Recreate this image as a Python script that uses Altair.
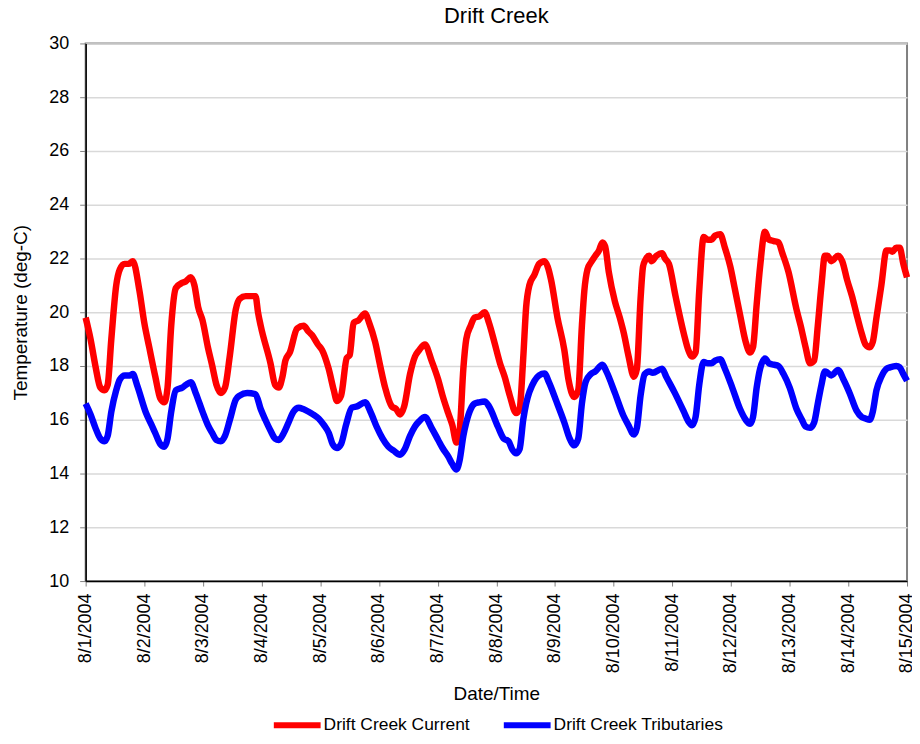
import altair as alt
import pandas as pd

# Hours since 8/1/2004 00:00 and temperature (deg-C)
current_hours = [0, 2, 4, 6, 7.7, 9, 10.5, 12.5, 14, 15.9, 17.5, 19.3, 22, 24, 26, 28.5, 30.5, 32.2,
    33.5, 35, 36.9, 39.6, 41, 43, 44.5, 46, 47.8, 50, 51.8, 53.5, 55.3, 57, 59, 61.4, 63, 65.5,
    69.5, 70.5, 71.6, 75.6, 77.5, 79, 80.5, 81.7, 83.5, 86.5, 89.2, 91, 92.6, 95, 96.7, 99.4,
    101.5, 102.8, 104.5, 106.8, 108, 109.6, 111.6, 114.3, 116, 118.4, 120.5, 122.5, 125.2, 127,
    128.6, 130.3, 132.7, 134.7, 136.5, 138.8, 141.5, 144.2, 146, 148.3, 150, 151.7, 153, 154.5,
    155.7, 157.5, 159.1, 161, 163.2, 165, 167.3, 169.5, 171.4, 173.5, 176.1, 177.5, 179, 180.2,
    181.5, 183.6, 185.5, 187.7, 189, 190.4, 193, 195.8, 197.5, 199.9, 201.5, 203, 204, 205.3,
    206.7, 208.5, 210, 211.4, 212.5, 214, 216.5, 218.5, 220.2, 222, 224.3, 225.5, 227, 228, 229,
    230.5, 231.5, 233.5, 235.8, 237, 238.6, 241.3, 244.7, 246.5, 248.1, 249.5, 251, 252.8, 254.5,
    256, 257.5, 259.6, 261.5, 263.7, 265.5, 267.7, 270, 271.8, 273, 274.5, 275.9, 277.9, 279.5,
    281.5, 283.4, 285, 287.5, 290.8, 292.5, 294.5, 296.3, 298, 299.5, 301, 302.4, 303.5, 305,
    307.8, 309.5, 311.5, 313.5, 315.3, 317.5, 319, 320.7, 322, 323.5, 325.5, 327.6, 329, 330,
    331.6, 333, 334.5, 336]
current_temp = [19.8, 19.0, 18.0, 17.2, 17.1, 17.3, 19.0, 21.0, 21.6, 21.8, 21.8, 21.9, 20.8, 19.6,
    18.7, 17.6, 16.8, 16.65, 17.2, 19.5, 20.9, 21.1, 21.15, 21.3, 21.0, 20.2, 19.7, 18.7, 18.0,
    17.3, 17.0, 17.2, 18.4, 20.1, 20.5, 20.6, 20.6, 20.0, 19.5, 18.1, 17.3, 17.2, 17.6, 18.2,
    18.5, 19.4, 19.5, 19.3, 19.15, 18.8, 18.6, 17.9, 17.1, 16.7, 16.9, 18.3, 18.4, 19.6, 19.7,
    19.95, 19.6, 18.9, 18.0, 17.2, 16.5, 16.4, 16.2, 16.5, 17.7, 18.35, 18.6, 18.8, 18.2, 17.5,
    16.9, 16.25, 15.8, 15.15, 15.6, 17.9, 19.0, 19.5, 19.8, 19.85, 20.0, 19.6, 18.85, 18.1, 17.6,
    16.9, 16.25, 16.4, 18.3, 20.2, 21.0, 21.4, 21.8, 21.9, 21.7, 21.2, 19.8, 18.6, 17.5, 16.85,
    17.1, 19.5, 20.8, 21.6, 21.85, 22.1, 22.3, 22.6, 22.45, 21.5, 20.4, 19.8, 19.2, 18.4, 17.6,
    17.9, 20.5, 21.7, 21.95, 22.1, 21.9, 22.1, 22.2, 22.0, 21.8, 20.6, 19.2, 18.6, 18.35, 18.5,
    20.8, 22.8, 22.7, 22.7, 22.85, 22.9, 22.4, 21.7, 20.9, 19.9, 18.9, 18.5, 18.7, 20.3, 21.7,
    23.0, 22.7, 22.65, 22.6, 22.2, 21.5, 20.1, 19.5, 18.7, 18.1, 18.2, 19.5, 21.0, 22.1, 22.1,
    21.9, 22.1, 21.9, 21.2, 20.6, 19.95, 19.2, 18.8, 18.7, 18.9, 19.8, 21.0, 22.3, 22.3, 22.25,
    22.4, 22.4, 21.8, 21.3]

trib_hours = [0, 2, 4, 6, 7.7, 9, 10.5, 12.5, 14, 16, 18, 19.3, 21, 24.7, 27, 28.5, 30.5, 32.2,
    33.5, 35, 36.9, 39.6, 41, 43, 45, 47.8, 50, 51.8, 53.5, 55.3, 57, 59, 61.4, 63, 66.1, 69.5,
    71.6, 73.5, 75.6, 77.5, 79, 81, 83, 85, 87.2, 89, 91.2, 93, 95.3, 97.5, 99.5, 101, 102.8,
    104.5, 106.5, 108.9, 111, 114.3, 116.5, 119, 121.5, 123.8, 126, 128.6, 130.5, 132.7, 134.7,
    136.5, 138.8, 141.5, 144.2, 146, 148.3, 150, 151.7, 153, 154.5, 155.7, 157.5, 159.1, 161,
    163.2, 165, 168.6, 171, 173, 174.5, 176.1, 177.5, 179, 180.2, 183.6, 185.5, 187.7, 189.5,
    192.5, 195.8, 198, 199.9, 201.5, 203, 204.5, 206.7, 208.5, 211.4, 213, 216.5, 220, 222,
    224.3, 225.5, 227, 228.7, 230.5, 232, 235.8, 237.5, 241, 244.7, 246.5, 248.1, 249.5, 251,
    252.8, 254.5, 256, 257.5, 259.6, 261.5, 264.5, 267.7, 270, 271.8, 273, 274.5, 275.9, 277.9,
    279.5, 281.5, 283.4, 285.5, 288, 290.8, 293, 294.5, 296.3, 298, 299.5, 301, 302.4, 303.5,
    305, 307.8, 310, 312.5, 315.3, 317.5, 319, 320.7, 322, 323.5, 325.5, 327.6, 329, 331.6, 333,
    334.5, 336]
trib_temp = [16.6, 16.2, 15.7, 15.3, 15.2, 15.4, 16.3, 17.1, 17.5, 17.65, 17.65, 17.7, 17.3, 16.25,
    15.8, 15.5, 15.1, 15.0, 15.3, 16.3, 17.1, 17.2, 17.3, 17.4, 17.0, 16.3, 15.8, 15.5, 15.25,
    15.2, 15.4, 16.0, 16.75, 16.9, 17.0, 16.95, 16.4, 16.0, 15.6, 15.3, 15.25, 15.5, 15.9, 16.3,
    16.45, 16.4, 16.3, 16.2, 16.05, 15.8, 15.5, 15.1, 14.95, 15.1, 15.8, 16.45, 16.5, 16.65,
    16.3, 15.75, 15.3, 15.0, 14.85, 14.7, 14.9, 15.4, 15.75, 15.95, 16.1, 15.7, 15.25, 14.95,
    14.64, 14.35, 14.15, 14.5, 15.4, 15.9, 16.4, 16.6, 16.65, 16.68, 16.5, 15.75, 15.3, 15.2,
    14.9, 14.75, 14.9, 16.0, 16.6, 17.45, 17.65, 17.72, 17.4, 16.7, 15.9, 15.3, 15.05, 15.3,
    16.6, 17.4, 17.7, 17.8, 18.05, 17.8, 17.0, 16.15, 15.8, 15.45, 15.7, 16.9, 17.7, 17.8, 17.75,
    17.9, 17.6, 17.0, 16.3, 15.95, 15.8, 16.1, 17.3, 18.15, 18.1, 18.1, 18.2, 18.25, 17.9, 17.2,
    16.4, 16.0, 15.85, 16.1, 17.2, 17.9, 18.28, 18.1, 18.05, 18.0, 17.7, 17.2, 16.4, 16.0, 15.75,
    15.7, 15.9, 16.6, 17.3, 17.8, 17.75, 17.65, 17.85, 17.5, 17.0, 16.35, 16.1, 16.05, 16.0,
    16.3, 17.1, 17.6, 17.9, 17.95, 18.0, 17.95, 17.7, 17.45]

series_names = ["Drift Creek Current", "Drift Creek Tributaries"]
series_colors = ["#FF0000", "#0000FF"]
day_labels = ["8/1/2004", "8/2/2004", "8/3/2004", "8/4/2004", "8/5/2004", "8/6/2004", "8/7/2004",
              "8/8/2004", "8/9/2004", "8/10/2004", "8/11/2004", "8/12/2004", "8/13/2004",
              "8/14/2004", "8/15/2004"]
y_ticks = [10, 12, 14, 16, 18, 20, 22, 24, 26, 28, 30]

df = pd.concat([
    pd.DataFrame({"hour": current_hours, "temp": current_temp, "series": series_names[0], "order": 0}),
    pd.DataFrame({"hour": trib_hours, "temp": trib_temp, "series": series_names[1], "order": 1}),
])

x_ticks = [24 * i for i in range(len(day_labels))]
label_expr = "[" + ",".join("'%s'" % l for l in day_labels) + "][round(datum.value/24)]"

FONT = "Liberation Sans"

chart = alt.Chart(df).mark_line(strokeWidth=6.5, interpolate="monotone").encode(
    x=alt.X("hour:Q", scale=alt.Scale(domain=[0, 336], nice=False, zero=False),
            axis=alt.Axis(values=x_ticks, labelExpr=label_expr, labelAngle=270, labelAlign="right",
                          labelBaseline="middle", labelFontSize=18, labelFont=FONT, labelColor="#000",
                          labelPadding=7, tickSize=5, tickColor="#808080", domainColor="#000",
                          domainWidth=1.5, grid=False, title="Date/Time", titleFont=FONT,
                          titleFontSize=19, titleFontWeight="normal", titleColor="#000",
                          titlePadding=12, labelOverlap=False, labelFlush=False)),
    y=alt.Y("temp:Q", scale=alt.Scale(domain=[10, 30], nice=False, zero=False),
            axis=alt.Axis(values=y_ticks, labelFontSize=18, labelFont=FONT, labelColor="#000",
                          labelPadding=11, tickSize=6, tickColor="#808080", domainColor="#000",
                          domainWidth=1.5, grid=True, gridColor="#d9d9d9", gridWidth=1.5,
                          title="Temperature (deg-C)", titleFont=FONT, titleFontSize=19,
                          titleFontWeight="normal", titleColor="#000", titlePadding=18)),
    color=alt.Color("series:N", scale=alt.Scale(domain=series_names, range=series_colors),
                    legend=alt.Legend(title=None, orient="none", direction="horizontal",
                                      legendX=186, legendY=658, labelFont=FONT, labelFontSize=17.5,
                                      labelColor="#000", labelLimit=400, symbolType="stroke",
                                      symbolSize=2209, symbolStrokeWidth=6, labelOffset=0,
                                      columnPadding=22)),
    order=alt.Order("order:Q"),
).properties(
    width=825,
    height=540,
    title=alt.TitleParams("Drift Creek", font=FONT, fontSize=22, fontWeight="normal",
                          color="#000", offset=7),
    autosize=alt.AutoSizeParams(type="none"),
    padding={"left": 78, "top": 34, "right": 5, "bottom": 150},
).configure_view(stroke="#808080", strokeWidth=2)

chart.save("out.html", embed_options={"renderer": "svg", "actions": False})
